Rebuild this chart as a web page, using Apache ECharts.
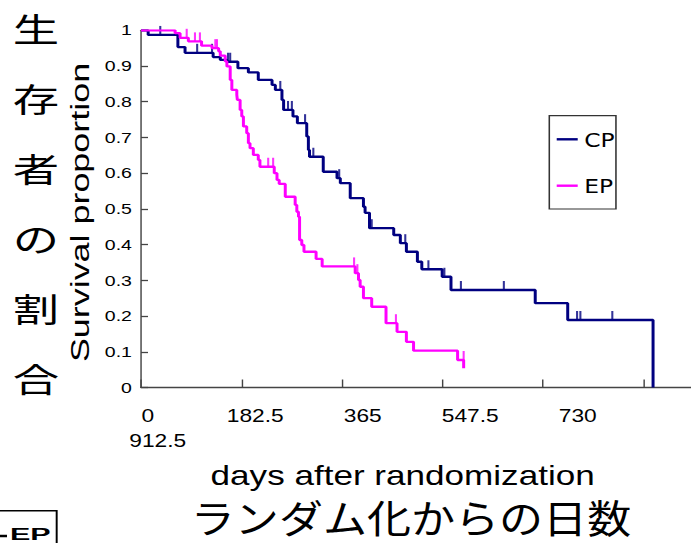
<!DOCTYPE html>
<html><head><meta charset="utf-8">
<script src="https://cdn.jsdelivr.net/npm/echarts@6/dist/echarts.min.js"></script>
<style>
html,body{margin:0;padding:0;background:#fff;overflow:hidden;width:691px;height:543px}
#main{width:531.54px;height:543px;transform:scaleX(1.3);transform-origin:0 0;background:#fff}
</style></head><body><div id="main"></div>
<script>
// ---- data ----
const seriesNames = ['CP', 'EP'];
const xTickLabels = ['0', '182.5', '365', '547.5', '730', '912.5'];
const cpDays = [0, 13, 67, 80, 131, 144, 156, 176, 195, 213, 238, 244, 256, 259, 276, 284, 301, 304, 306, 331, 356, 362, 380, 404, 407, 415, 459, 471, 482, 502, 510, 547, 563, 716, 775, 930];
const cpSurv = [1, 0.987, 0.953, 0.937, 0.925, 0.917, 0.912, 0.894, 0.882, 0.861, 0.847, 0.833, 0.805, 0.777, 0.759, 0.740, 0.703, 0.665, 0.646, 0.604, 0.586, 0.572, 0.530, 0.506, 0.489, 0.446, 0.427, 0.404, 0.380, 0.352, 0.331, 0.310, 0.273, 0.236, 0.189, 0];
const epDays = [0, 62, 71, 86, 110, 129, 141, 144, 153, 156, 162, 165, 174, 175, 180, 183, 186, 192, 195, 198, 204, 213, 216, 242, 247, 251, 262, 280, 283, 286, 288, 292, 296, 318, 329, 389, 395, 398, 404, 419, 445, 465, 482, 495, 575, 586];
const epSurv = [1, 0.992, 0.979, 0.969, 0.957, 0.950, 0.941, 0.929, 0.913, 0.899, 0.861, 0.833, 0.819, 0.805, 0.777, 0.759, 0.731, 0.712, 0.684, 0.670, 0.651, 0.637, 0.618, 0.600, 0.581, 0.570, 0.534, 0.511, 0.492, 0.478, 0.413, 0.399, 0.380, 0.360, 0.339, 0.320, 0.301, 0.282, 0.250, 0.226, 0.180, 0.156, 0.128, 0.103, 0.077, 0.054];
const cpCensorDays = [35, 102, 129, 158, 162, 253, 267, 274, 298, 313, 360, 419, 480, 522, 551, 581, 659, 792, 798, 856];
const cpCensorSurv = [0.987, 0.937, 0.937, 0.912, 0.912, 0.833, 0.777, 0.777, 0.740, 0.646, 0.586, 0.446, 0.404, 0.331, 0.310, 0.273, 0.273, 0.189, 0.189, 0.189];
const epCensorDays = [83, 98, 107, 135, 138, 231, 240, 387, 393, 463, 586];
const epCensorSurv = [0.979, 0.969, 0.969, 0.950, 0.950, 0.618, 0.618, 0.339, 0.320, 0.180, 0.077];
const yTitle = 'Survival proportion';
const yTitleJa = '生\n存\n者\nの\n割\n合';
const xTitle = 'days after randomization';
const xTitleJa = 'ランダム化からの日数';

// ---- layout (the whole chart is stretched horizontally by K via CSS) ----
const K = 1.3;
const sx = v => v / K;
const pair = (a, b) => a.map((d, i) => [d, b[i]]);
const AX = '#444';
const lab = 'Liberation Sans, Arial, sans-serif';

const chart = echarts.init(document.getElementById('main'), null, {renderer: 'svg'});
chart.setOption({
  animation: false,
  backgroundColor: '#fff',
  grid: [
    {left: sx(141), right: 0, top: 30.3, bottom: 155.5},
    {left: sx(94), width: sx(537.5), top: 30.3, bottom: 155.5}
  ],
  xAxis: [
    {type: 'value', gridIndex: 0, min: 0, max: 1000, interval: 182.5,
     axisLine: {show: true, lineStyle: {color: AX, width: 1.3}},
     axisTick: {show: true, inside: true, length: 8, lineStyle: {color: AX, width: 1.1}},
     axisLabel: {show: false}, splitLine: {show: false},
     name: xTitle, nameLocation: 'middle', nameGap: 75,
     nameTextStyle: {fontFamily: lab, fontSize: 27, color: '#000', padding: [0, 21, 0, 0]}},
    {type: 'category', gridIndex: 1, data: xTickLabels.slice(0, 5),
     axisLine: {show: false}, axisTick: {show: false}, splitLine: {show: false},
     axisLabel: {interval: 0, margin: 15.5, fontFamily: lab, fontSize: 17.5, lineHeight: 25, color: '#000',
       formatter: (v, i) => i === 0 ? v + '\n{w|' + xTickLabels[5] + '}' : v,
       rich: {w: {fontFamily: lab, fontSize: 17.5, lineHeight: 25, color: '#000', padding: [0, 0, 0, 15.4]}}}}
  ],
  yAxis: [
    {type: 'value', gridIndex: 0, min: 0, max: 1, interval: 0.1,
     axisLine: {show: true, lineStyle: {color: AX, width: 1.1}},
     axisTick: {show: true, inside: true, length: 5.4, lineStyle: {color: AX, width: 1.3}},
     axisLabel: {margin: 7, fontFamily: lab, fontSize: 15, color: '#000'},
     splitLine: {show: false}},
    {type: 'value', gridIndex: 1, show: false}
  ],
  legend: {
    data: seriesNames, orient: 'vertical', left: sx(549.3), top: 115.7,
    icon: 'rect', itemWidth: sx(21), itemHeight: 2.4, itemGap: 26.4,
    padding: [13.6, 1, 13.3, 5.7], borderColor: '#333', borderWidth: 1.2,
    backgroundColor: '#fff', selectedMode: false,
    textStyle: {fontFamily: 'Liberation Sans Narrow, DejaVu Sans Condensed, Liberation Sans, sans-serif', fontSize: 20, color: '#000'}
  },
  series: [
    {name: seriesNames[0], type: 'line', step: 'end', showSymbol: false, symbol: 'none',
     color: '#000080', lineStyle: {color: '#000080', width: 2.3}, data: pair(cpDays, cpSurv), z: 2},
    {name: seriesNames[1], type: 'line', step: 'end', showSymbol: false, symbol: 'none',
     color: '#FF00FF', lineStyle: {color: '#FF00FF', width: 2.3}, data: pair(epDays, epSurv), z: 3},
    {name: 'CP censored', type: 'scatter', symbol: 'rect', symbolSize: [1.6, 9], symbolOffset: [0, -4.5],
     itemStyle: {color: '#000080'}, data: pair(cpCensorDays, cpCensorSurv), z: 2, silent: true},
    {name: 'EP censored', type: 'scatter', symbol: 'rect', symbolSize: [1.6, 9], symbolOffset: [0, -4.5],
     itemStyle: {color: '#FF00FF'}, data: pair(epCensorDays, epCensorSurv), z: 3, silent: true}
  ],
  graphic: [
    {type: 'text', x: sx(36), y: 202.5, scaleX: 1.08,
     style: {text: yTitleJa, font: '33px "Noto Sans CJK JP"', fill: '#000', lineHeight: 70,
       textAlign: 'center', textVerticalAlign: 'middle', align: 'center', verticalAlign: 'middle'}},
    {type: 'text', x: sx(80), y: 212.5, rotation: Math.PI / 2, scaleX: 1.76,
     style: {text: yTitle, font: '20.4px "Liberation Sans"', fill: '#000',
       textAlign: 'center', textVerticalAlign: 'middle', align: 'center', verticalAlign: 'middle'}},
    {type: 'text', x: sx(411), y: 516, scaleX: 0.88,
     style: {text: xTitleJa, font: '38.5px "Noto Sans CJK JP"', fill: '#000',
       textAlign: 'center', textVerticalAlign: 'middle', align: 'center', verticalAlign: 'middle'}},
    {type: 'rect', shape: {x: -5, y: 510.7, width: 48.6, height: 50},
     style: {fill: '#fff', stroke: '#000', lineWidth: 1.5}},
    {type: 'text', x: 7.7, y: 525.5, scaleX: 1.38,
     style: {text: seriesNames[1], font: 'bold 17px "Liberation Sans"', fill: '#000',
       textVerticalAlign: 'top', verticalAlign: 'top'}},
    {type: 'line', shape: {x1: 0, y1: 536, x2: 5.4, y2: 536}, style: {stroke: '#000', lineWidth: 2.5}}
  ]
});
</script></body></html>
